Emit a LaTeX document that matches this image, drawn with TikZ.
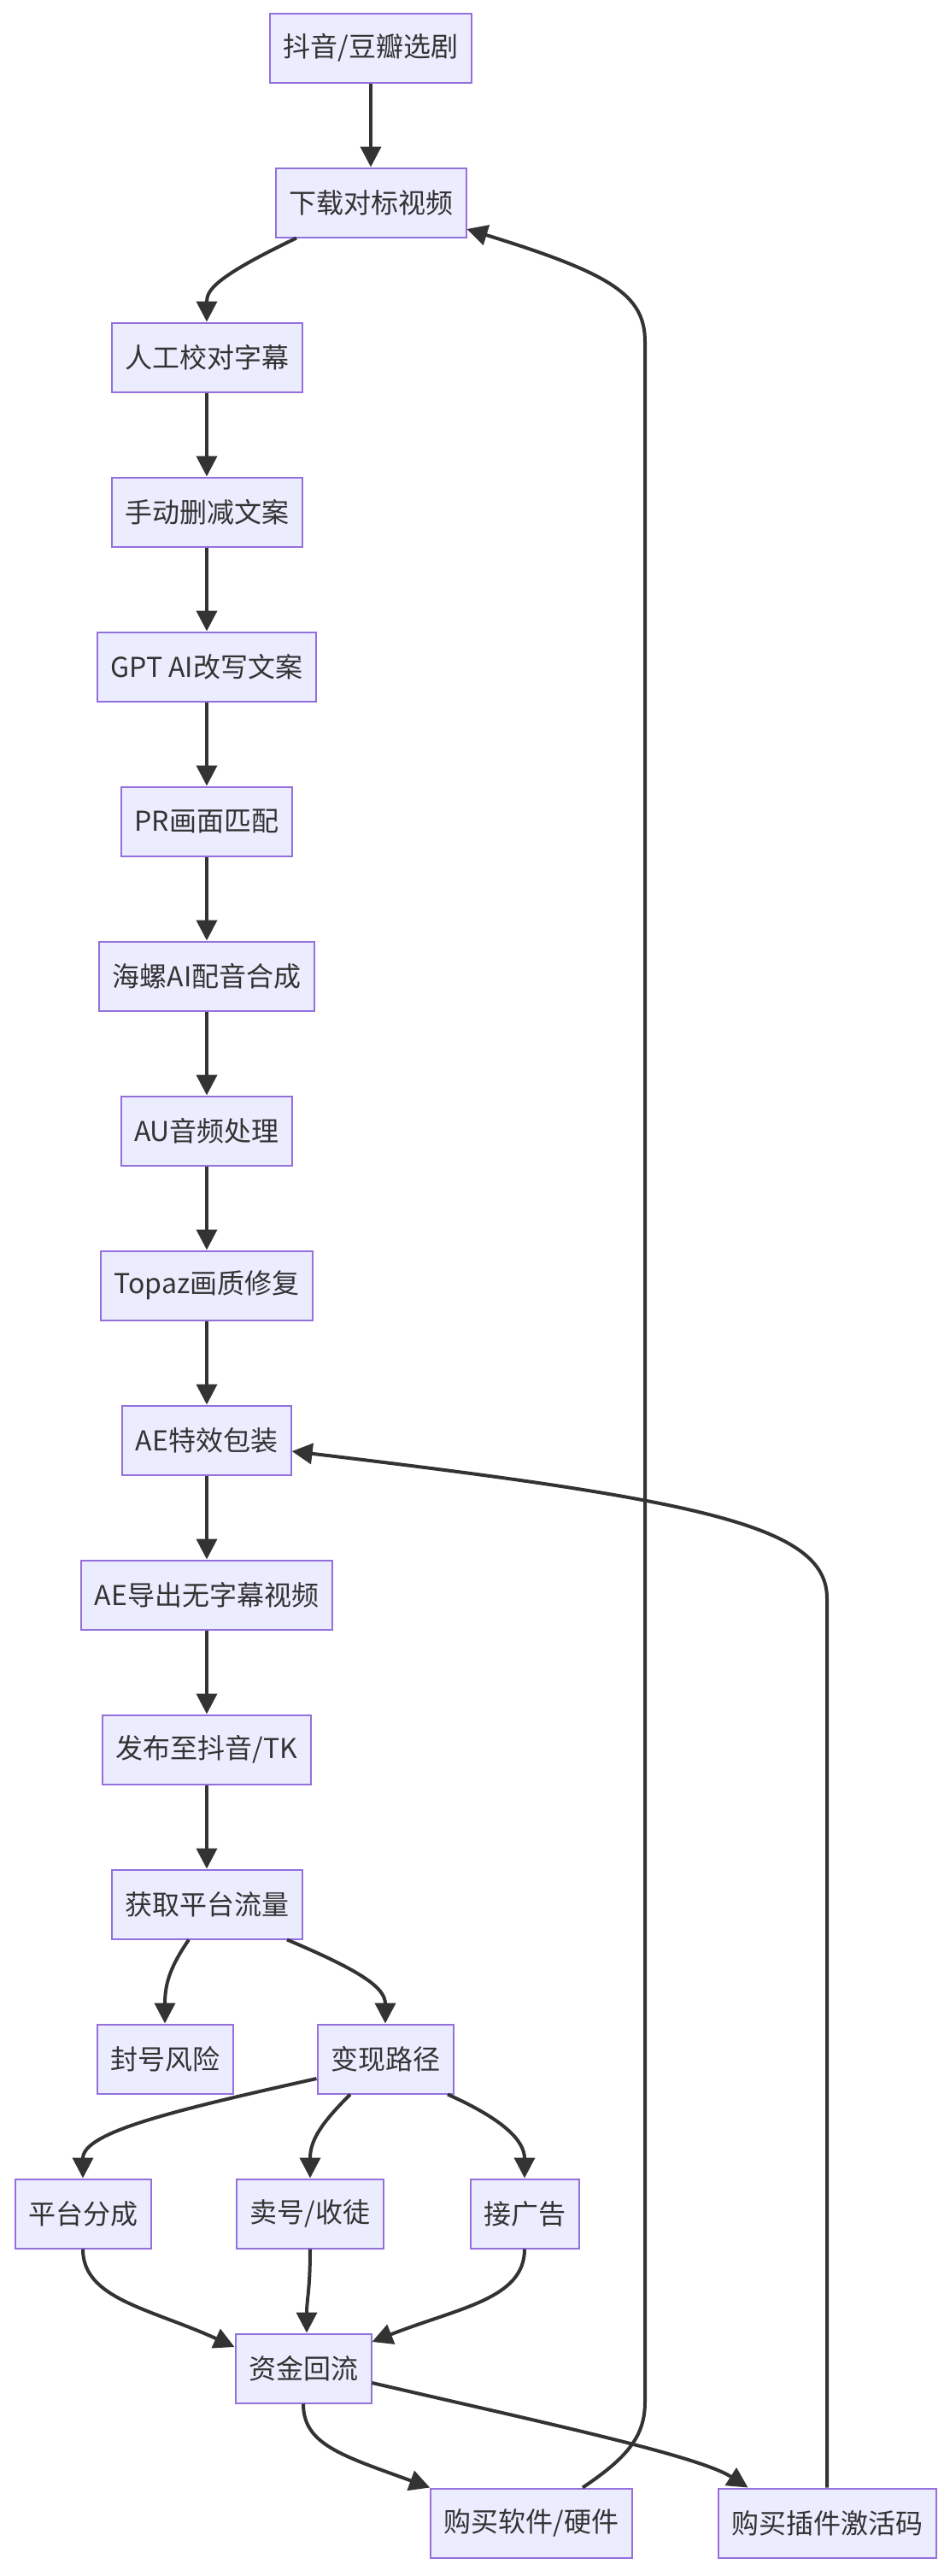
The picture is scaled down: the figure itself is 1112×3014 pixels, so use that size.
\documentclass[tikz,border=0pt]{standalone}
\usepackage{fontspec}
\setmainfont{Noto Sans CJK SC}
\usepackage{xcolor}
\usepackage{tikz}
\usetikzlibrary{arrows.meta, calc}
\definecolor{boxfill}{HTML}{ECECFF}
\definecolor{boxline}{HTML}{9370DB}
\definecolor{edgegray}{HTML}{333333}

\begin{document}
\begin{tikzpicture}[
  x=0.5pt, y=-0.5pt,
  box/.style={draw=boxline, fill=boxfill, line width=1pt, text=edgegray,
    font=\fontsize{16pt}{19pt}\selectfont, minimum height=40.5pt,
    inner xsep=7.75pt, inner ysep=0pt},
  arr/.style={draw=edgegray, line width=2pt, -{Triangle[length=12pt, width=12pt]}},
]
  \useasboundingbox (0,0) rectangle (1112,3014);

  % Top
  \node[box] (pick) at (434,56) {抖音/豆瓣选剧};
  \node[box] (dl) at (434,237) {下载对标视频};

  % Main column
  \foreach \n/\y/\t in {sub/418/人工校对字幕, cut/599/手动删减文案,
      gpt/780/{GPT AI改写文案}, pr/961/PR画面匹配, dub/1142/海螺AI配音合成,
      au/1323/AU音频处理, topaz/1504/Topaz画质修复, fx/1685/AE特效包装,
      exp/1866/AE导出无字幕视频, pub/2047/{发布至抖音/TK}, traffic/2228/获取平台流量} {
    \node[box] (\n) at (242,\y) {\t};
  }

  % Branches
  \node[box] (ban) at (193,2409) {封号风险};
  \node[box] (cash) at (451,2409) {变现路径};
  \node[box] (share) at (97,2590) {平台分成};
  \node[box] (sell) at (363,2590) {卖号/收徒};
  \node[box] (ads) at (614,2590) {接广告};
  \node[box] (flow) at (355,2771) {资金回流};
  \node[box] (hw) at (622,2952) {购买软件/硬件};
  \node[box] (plug) at (968,2952) {购买插件激活码};

  % Straight edges
  \draw[arr] (pick) -- (dl);
  \foreach \a/\b in {sub/cut, cut/gpt, gpt/pr, pr/dub, dub/au, au/topaz,
      topaz/fx, fx/exp, exp/pub, pub/traffic} {
    \draw[arr] (\a) -- (\b);
  }

  % Curved edges
  \draw[arr] ($(dl.south)+(-87,0)$) .. controls (250,325) and (242,340) .. (sub.north);
  \draw[arr] ($(traffic.south)+(-21,0)$) .. controls (200,2300) and (193,2320) .. (ban.north);
  \draw[arr] ($(traffic.south)+(94,0)$) .. controls (420,2305) and (451,2325) .. (cash.north);
  \draw[arr] ($(cash.west)+(0,23)$) .. controls (200,2470) and (97,2495) .. (share.north);
  \draw[arr] ($(cash.south)+(-41,0)$) .. controls (375,2485) and (363,2505) .. (sell.north);
  \draw[arr] ($(cash.south)+(73,0)$) .. controls (590,2480) and (614,2505) .. (ads.north);
  \draw[arr] (share.south) .. controls (97,2690) and (176,2701) .. ($(flow.west)+(0,-25)$);
  \draw[arr] (sell.south) .. controls (363,2680) and (359,2690) .. ($(flow.north)+(4,0)$);
  \draw[arr] (ads.south) .. controls (614,2690) and (537,2700) .. ($(flow.east)+(0,-31)$);
  \draw[arr] (flow.south) .. controls (355,2860) and (400,2873) .. (hw.north west);
  \draw[arr] ($(flow.east)+(0,17)$) .. controls (634,2834) and (817,2873) .. ($(plug.north west)+(36,0)$);

  % Loop back edges
  \draw[arr] ($(hw.north)+(60,0)$) .. controls (735,2875) and (755,2850) .. (755,2810)
    -- (755,400) .. controls (755,345) and (715,320) .. ($(dl.east)+(0,31)$);
  \draw[arr] (plug.north) -- (968,1870) .. controls (968,1785) and (820,1755) .. ($(fx.east)+(0,13)$);

\end{tikzpicture}
\end{document}
